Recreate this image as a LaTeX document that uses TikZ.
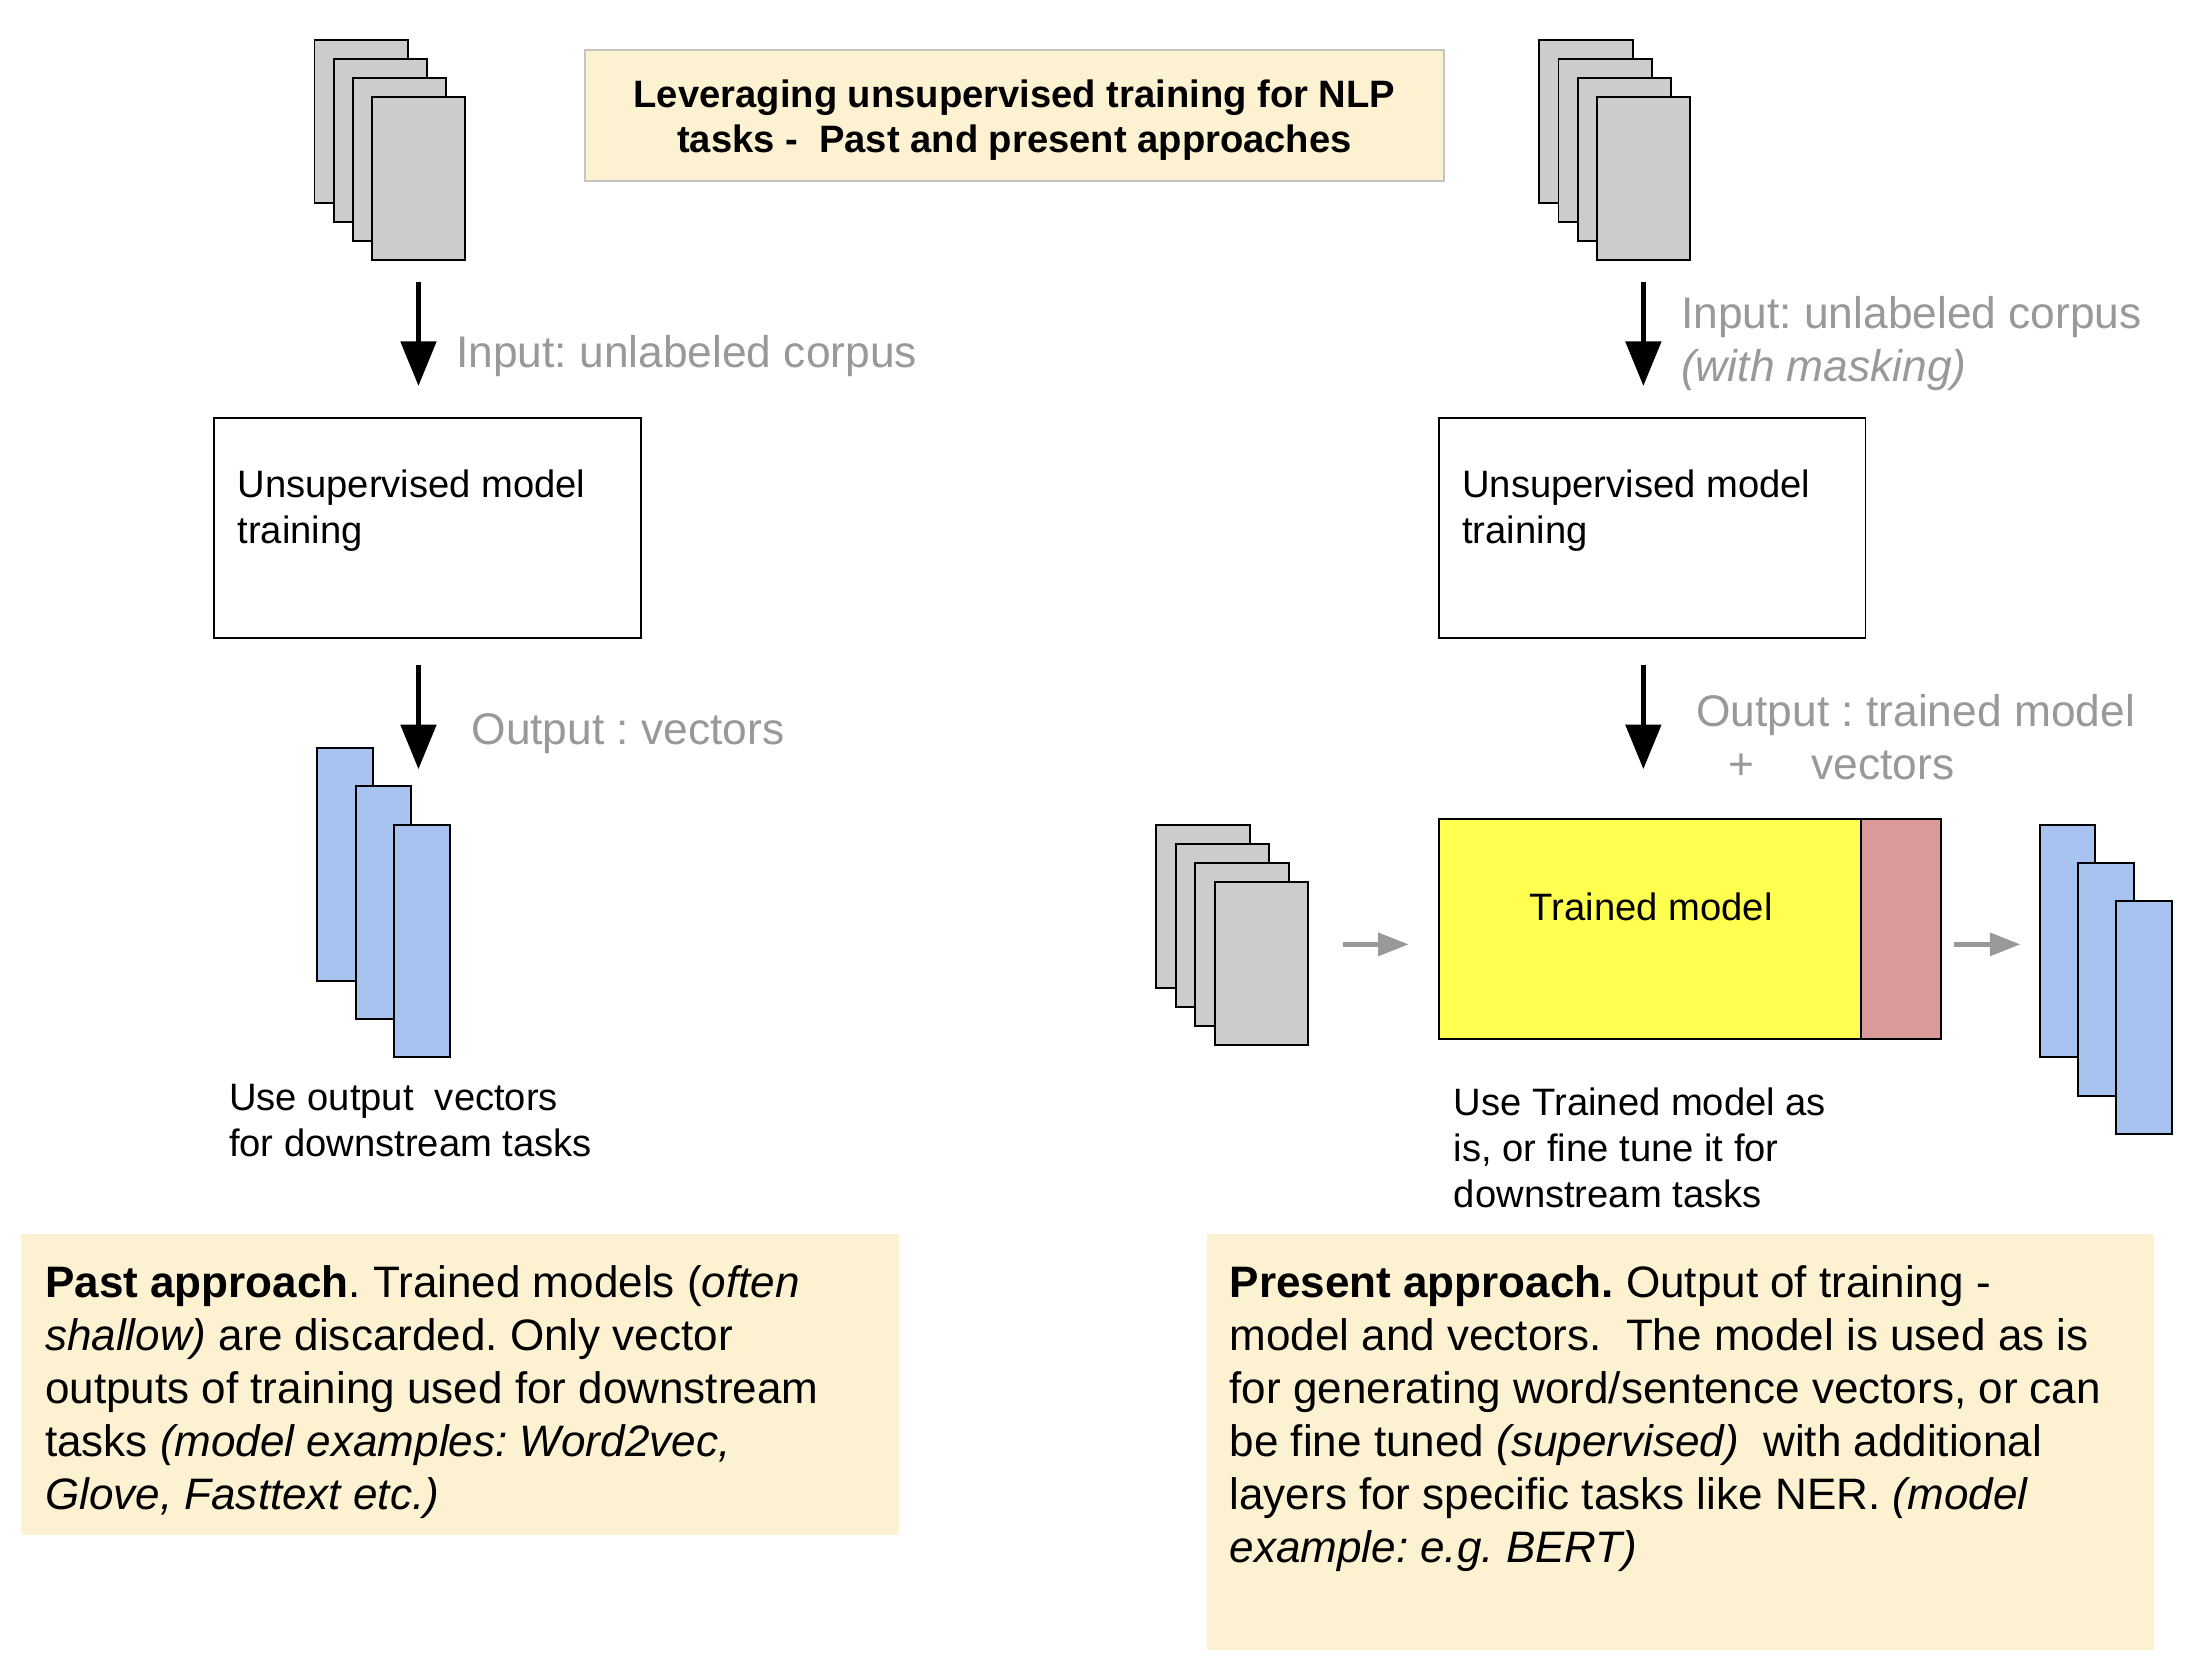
\documentclass[tikz,border=0pt]{standalone}
\usepackage{fontspec}
\setmainfont{Liberation Sans}
\usetikzlibrary{arrows.meta}
\frenchspacing

\definecolor{sheetgray}{HTML}{CCCCCC}
\definecolor{vecblue}{HTML}{A9C3F0}
\definecolor{notecream}{HTML}{FCF1D1}
\definecolor{modelyellow}{HTML}{FFFF50}
\definecolor{headpink}{HTML}{DB9A9A}
\definecolor{labelgray}{HTML}{999999}
\definecolor{titleline}{HTML}{C4C4C4}

\begin{document}
\begin{tikzpicture}[x=0.5pt,y=-0.5pt,
    sheet/.style={draw,line width=0.7pt,fill=sheetgray,anchor=north west,
        inner sep=0pt,minimum width=33.5pt,minimum height=58.5pt},
    vec/.style={draw,line width=0.7pt,fill=vecblue,anchor=north west,
        inner sep=0pt,minimum width=20pt,minimum height=83.5pt},
    trainbox/.style={draw,line width=0.7pt,fill=white,anchor=north west,
        inner sep=0pt,minimum width=153pt,minimum height=79pt},
    notebox/.style={fill=notecream,anchor=north west,inner sep=0pt},
    bigarrow/.style={line width=2pt,-{Triangle[length=16pt,width=12.5pt]}},
    feedarrow/.style={labelgray,line width=1.9pt,-{Triangle[length=11pt,width=8pt]}},
    graylabel/.style={labelgray,anchor=north west,inner sep=0pt,align=left,
        font=\fontsize{15.9pt}{19pt}\selectfont},
    smalltext/.style={anchor=north west,inner sep=0pt,align=left,
        font=\fontsize{13.7pt}{16.5pt}\selectfont},
    notetext/.style={anchor=north west,inner sep=0pt,align=left,
        font=\fontsize{15.8pt}{19pt}\selectfont}]

    \fill[white] (0,0) rectangle (1568,1200);
    \useasboundingbox (0,0) rectangle (1568,1200);

    % title
    \node[draw=titleline,line width=0.8pt,fill=notecream,inner sep=0pt,
        minimum width=308pt,minimum height=47pt] (titlebox) at (728,83) {};
    \node[inner sep=0pt,align=center,
        font=\bfseries\fontsize{13.7pt}{16pt}\selectfont] (title) at (728,86)
        {Leveraging unsupervised training for NLP\\tasks -~ Past and present approaches};

    % past approach
    \node[sheet] (corpusL1) at (225,28) {};
    \node[sheet] (corpusL2) at (238.7,41.7) {};
    \node[sheet] (corpusL3) at (252.4,55.4) {};
    \node[sheet] (corpusL4) at (266.1,69.1) {};

    \node[trainbox] (trainL) at (153,299) {};
    \node[smalltext] (trainLtext) at (170,337) {Unsupervised model\\training};

    \draw[bigarrow,shorten <=7.5pt,shorten >=11pt] (corpusL4.south)
        -- (corpusL4.south |- trainL.north);
    \node[graylabel] (inputL) at (327,240) {Input: unlabeled corpus};

    \node[vec] (vecL1) at (227,536) {};
    \node[vec] (vecL2) at (254.5,563.5) {};
    \node[vec] (vecL3) at (282,591) {};

    \draw[bigarrow,shorten <=9.5pt,shorten >=5.75pt] (trainL.south -| corpusL4.south)
        -- (corpusL4.south |- vecL2.north);
    \node[graylabel] (outputL) at (338,512) {Output : vectors};
    \node[smalltext] (useL) at (164,778) {Use output\ \ vectors\\for downstream tasks};

    % present approach
    \node[sheet] (corpusR1) at (1104,28) {};
    \node[sheet] (corpusR2) at (1117.7,41.7) {};
    \node[sheet] (corpusR3) at (1131.4,55.4) {};
    \node[sheet] (corpusR4) at (1145.1,69.1) {};

    \node[trainbox] (trainR) at (1032,299) {};
    \node[smalltext] (trainRtext) at (1049,337) {Unsupervised model\\training};

    \draw[bigarrow,shorten <=7.5pt,shorten >=11pt] (corpusR4.south)
        -- (corpusR4.south |- trainR.north);
    \node[graylabel] (inputR) at (1206,212)
        {Input: unlabeled corpus\\\textit{(with masking)}};

    \node[draw,line width=0.7pt,fill=modelyellow,anchor=north west,inner sep=0pt,
        minimum width=151.5pt,minimum height=79pt] (model) at (1032,587) {};
    \node[draw,line width=0.7pt,fill=headpink,anchor=north west,inner sep=0pt,
        minimum width=28.5pt,minimum height=79pt] (head) at (1335,587) {};
    \node[inner sep=0pt,font=\fontsize{13.7pt}{16pt}\selectfont] (modeltext)
        at (1185,651) {Trained model};

    \draw[bigarrow,shorten <=9.5pt,shorten >=17.5pt] (trainR.south -| corpusR4.south)
        -- (corpusR4.south |- model.north);
    \node[graylabel] (outputR) at (1217,498)
        {Output : trained model\\\hspace*{11.5pt}+\hspace*{20.5pt}vectors};

    \node[sheet] (inputA) at (829,591) {};
    \node[sheet] (inputB) at (843,604.7) {};
    \node[sheet] (inputC) at (857,618.4) {};
    \node[sheet] (inputD) at (871,632.1) {};

    \node[vec] (vecR1) at (1463,591) {};
    \node[vec] (vecR2) at (1490.5,618.5) {};
    \node[vec] (vecR3) at (1518,646) {};

    \coordinate (feedL) at ([yshift=-5.5pt]model.west);
    \coordinate (feedR) at ([yshift=-5.5pt]head.east);
    \draw[feedarrow,shorten <=12pt,shorten >=10.5pt] (feedL -| inputD.east) -- (feedL);
    \draw[feedarrow,shorten <=4.5pt,shorten >=6.5pt] (feedR) -- (feedR -| vecR1.west);

    \node[smalltext] (useR) at (1043,780)
        {Use Trained model as\\is, or fine tune it for\\downstream tasks};

    % notes
    \node[notebox,minimum width=315pt,minimum height=108pt] (pastnote) at (15,885) {};
    \node[notetext] (pasttext) at (32,908)
        {\textbf{Past approach}. Trained models (\textit{often}\\
         \textit{shallow)} are discarded. Only vector\\
         outputs of training used for downstream\\
         tasks \textit{(model examples: Word2vec,}\\
         \textit{Glove, Fasttext etc.)}};

    \node[notebox,minimum width=339.5pt,minimum height=149.5pt] (presentnote) at (866,885) {};
    \node[notetext] (presenttext) at (882,908)
        {\textbf{Present approach.} Output of training -\\
         model and vectors.\ \ The model is used as is\\
         for generating word/sentence vectors, or can\\
         be fine tuned \textit{(supervised)}\ \ with additional\\
         layers for specific tasks like NER. \textit{(model}\\
         \textit{example: e.g. BERT)}};
\end{tikzpicture}
\end{document}
